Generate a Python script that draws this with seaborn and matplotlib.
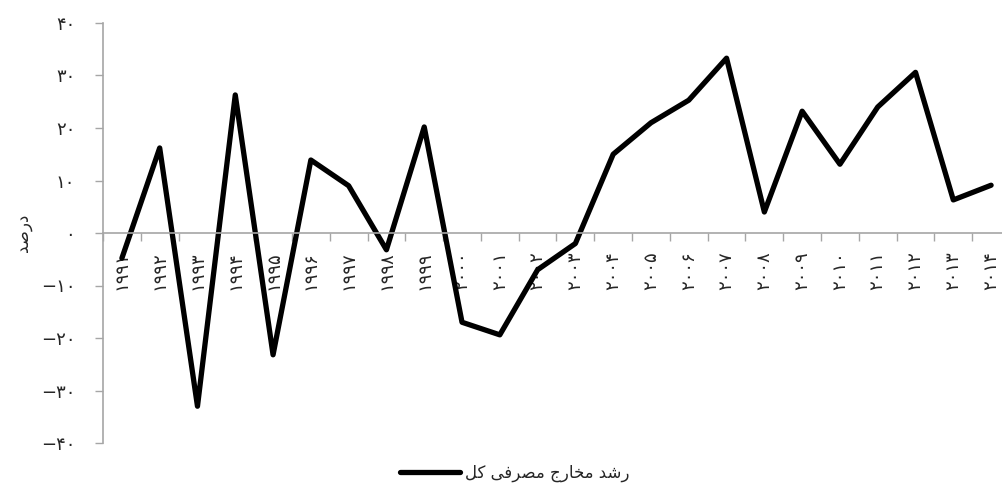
import numpy as np
import matplotlib
matplotlib.use("Agg")
import matplotlib.pyplot as plt
import seaborn as sns

# data (percent)
years = list(range(1991, 2015))
growth = [-4.8, 16.2, -33.0, 26.3, -23.2, 13.9, 9.0, -3.2, 20.2, -17.0,
          -19.4, -7.0, -2.0, 15.0, 21.0, 25.3, 33.3, 4.0, 23.2, 13.1,
          24.0, 30.6, 6.3, 9.1]
y_ticks = [-40, -30, -20, -10, 0, 10, 20, 30, 40]

# Persian text, written in presentation forms (matplotlib does no Arabic shaping)
y_title = "\uFEAA\uFEBB\uFEAD\uFEA9"  # درصد
series_name = ("\uFEDE\uFB90 "                      # کل
               "\uFBFD\uFED3\uFEAE\uFEBC\uFEE3 "    # مصرفی
               "\uFE9D\uFEAD\uFE8E\uFEA8\uFEE3 "    # مخارج
               "\uFEAA\uFEB7\uFEAD")                # رشد

fa_digits = str.maketrans("0123456789-", "۰۱۲۳۴۵۶۷۸۹−")


def fa(n):
    return str(n).translate(fa_digits)


sns.set_theme(style="white")
plt.rcParams['font.family'] = ['DejaVu Sans']

fig = plt.figure(figsize=(10.03, 4.93), dpi=100)
# the plot runs a little past the right edge of the picture, as in the original
ax = fig.add_axes([103 / 1003, 50 / 493, 907 / 1003, 420 / 493])

x = np.arange(len(years))
sns.lineplot(x=x, y=growth, ax=ax, color="black", linewidth=3.8,
             label=series_name, legend=False)

ax.set_xlim(-0.5, len(years) - 0.5)
ax.set_ylim(-40, 40)

# y axis
ax.set_yticks(y_ticks)
ax.set_yticklabels([fa(v) for v in y_ticks], fontsize=13)
ax.set_ylabel(y_title, fontsize=12, labelpad=6)
ax.tick_params(axis="y", direction="out", length=6, width=1, color="#a6a6a6",
               left=True, pad=14)

# x axis sits on zero, ticks between the years, labels centred on the years
ax.spines["bottom"].set_position(("data", 0))
ax.set_xticks(np.arange(-0.5, len(years), 1))
ax.set_xticklabels([])
ax.set_xticks(x, minor=True)
ax.set_xticklabels([fa(y) for y in years], minor=True, rotation=90,
                   fontsize=13, va="top")
ax.tick_params(axis="x", which="major", direction="out", length=6, width=1,
               color="#a6a6a6", bottom=True)
ax.tick_params(axis="x", which="minor", length=0, pad=13)

for side in ["top", "right"]:
    ax.spines[side].set_visible(False)
for side in ["left", "bottom"]:
    ax.spines[side].set_color("#a6a6a6")
    ax.spines[side].set_linewidth(1.2)
ax.grid(False)

fig.legend(handles=ax.get_lines()[:1], labels=[series_name],
           loc="center", bbox_to_anchor=(515 / 1003, 1 - 473 / 493),
           frameon=False, fontsize=12, handlelength=3.6, handletextpad=0.3)

fig.savefig("out.png", dpi=100)
